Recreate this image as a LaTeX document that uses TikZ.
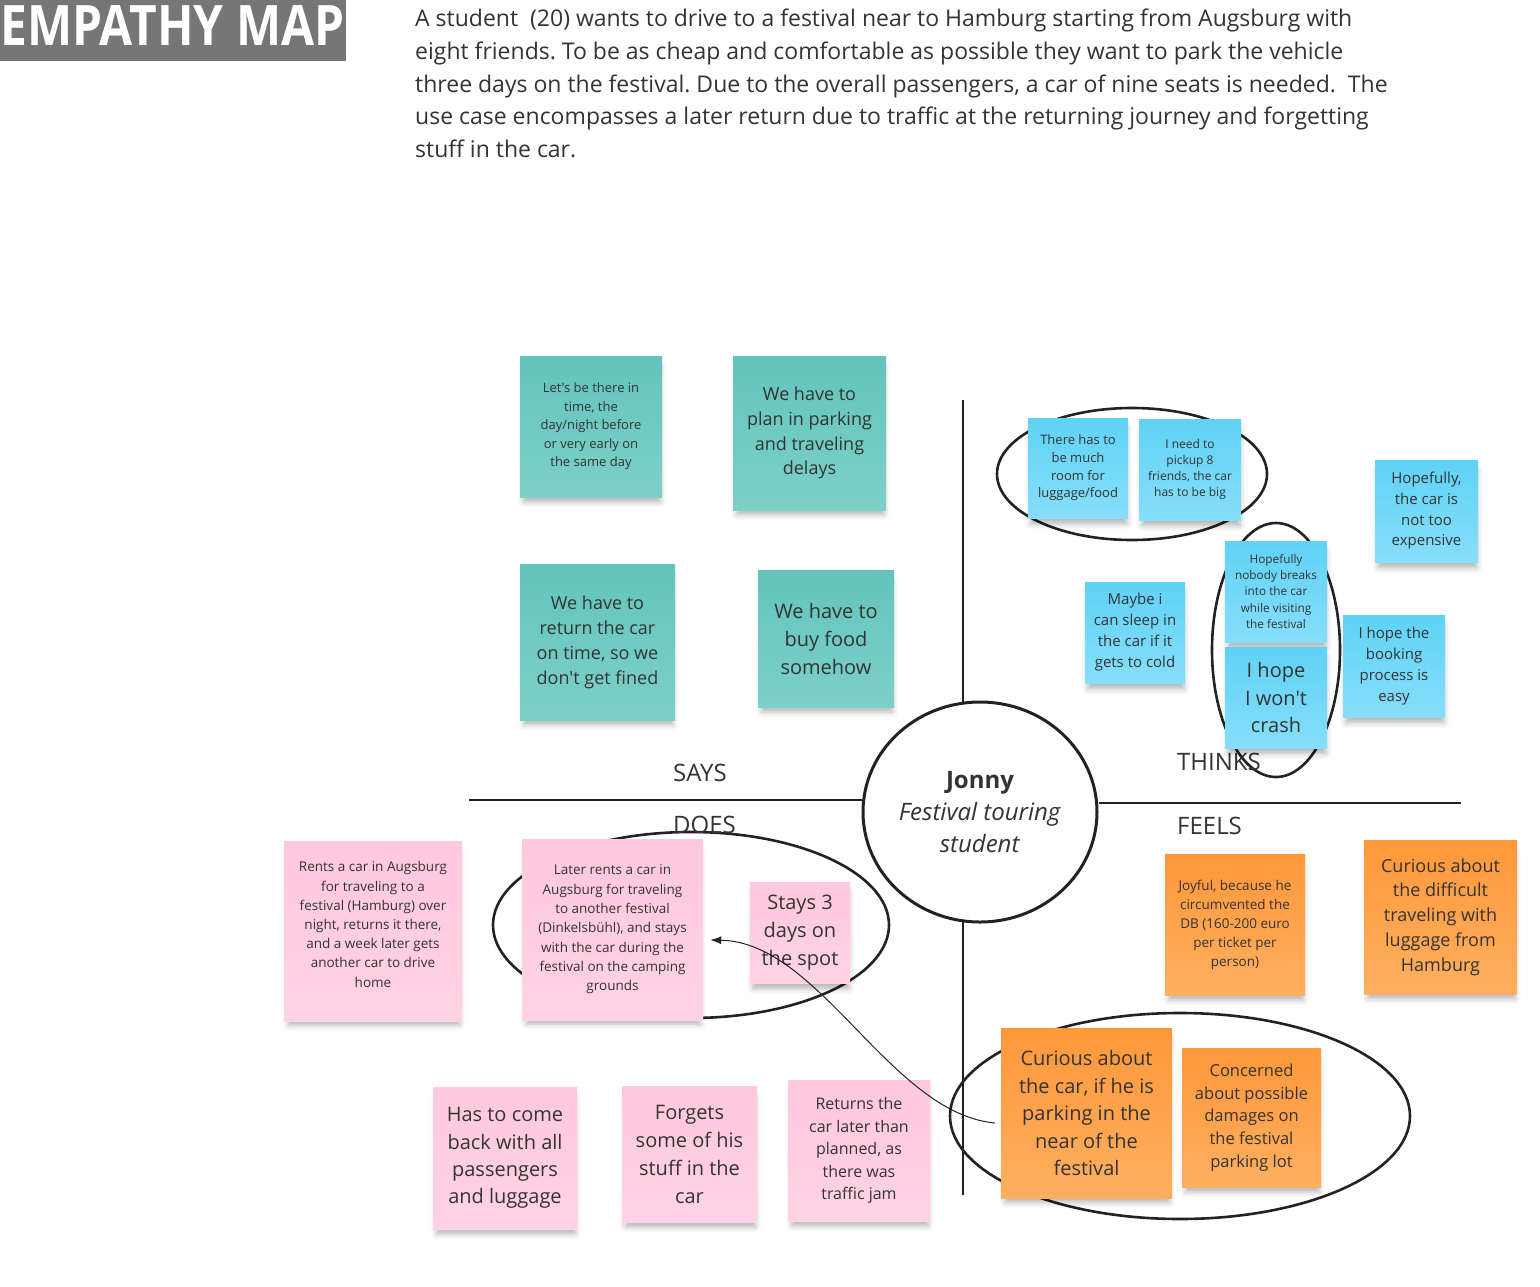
\documentclass[tikz,border=0pt]{standalone}
\usepackage{fontspec}
\setmainfont{Open Sans}[Ligatures=TeXOff]
\usetikzlibrary{shapes.geometric,shadows.blur,calc,arrows.meta}
\definecolor{teal1}{HTML}{62C4BC}
\definecolor{teal2}{HTML}{7DD0C9}
\definecolor{blue1}{HTML}{5FD2F6}
\definecolor{blue2}{HTML}{87DEFA}
\definecolor{pink1}{HTML}{FFC8DD}
\definecolor{pink2}{HTML}{FFD3E4}
\definecolor{orng1}{HTML}{FF983A}
\definecolor{orng2}{HTML}{FFAF60}
\definecolor{ink}{HTML}{333333}
\definecolor{hdr}{HTML}{767676}
\definecolor{linec}{HTML}{222222}
\newcommand\nfs[2]{\fontsize{#1}{#2}\selectfont}
\frenchspacing
\tikzset{
  note/.style={rectangle, inner sep=0pt, align=center, text=ink,
    blur shadow={shadow xshift=1pt, shadow yshift=-8pt, shadow blur radius=6pt, shadow opacity=30, shadow scale=0.96}},
  tealnote/.style={note, top color=teal1, bottom color=teal2},
  bluenote/.style={note, top color=blue1, bottom color=blue2},
  pinknote/.style={note, top color=pink1, bottom color=pink2},
  orngnote/.style={note, top color=orng1, bottom color=orng2},
  divider/.style={draw=linec, line width=2.5pt},
  group/.style={draw=linec, line width=2.6pt},
  quad/.style={text=ink, font=\nfs{24}{30}, inner sep=0pt, anchor=base west},
  para/.style={text=ink, font=\nfs{23}{33}, inner sep=0pt, anchor=base west}
}
\begin{document}
\begin{tikzpicture}[x=1pt,y=-1pt]
\useasboundingbox (0,0) rectangle (1540,1286);

% header
\node[fill=hdr, minimum width=346, minimum height=61, inner sep=0, anchor=north west] (hbox) at (0,0) {};
\node[inner sep=0, anchor=base west, text=white] (htitle) at (0,45) {\resizebox{344pt}{40pt}{\bfseries EMPATHY MAP}};
\node[para] (p1) at (415,26) {A student\ \ (20) wants to drive to a festival near to Hamburg starting from Augsburg with};
\node[para] (p2) at (415,59) {eight friends. To be as cheap and comfortable as possible they want to park the vehicle};
\node[para] (p3) at (415,92) {three days on the festival. Due to the overall passengers, a car of nine seats is needed.\ \ The};
\node[para] (p4) at (415,124) {use case encompasses a later return due to traffic at the returning journey and forgetting};
\node[para] (p5) at (415,157) {stuff in the car.};

% centre
\node[ellipse, draw=linec, line width=3pt, minimum width=234, minimum height=220, inner sep=0, align=center, text=ink, font=\nfs{24}{32}] (core) at (980,812)
  {\textbf{Jonny}\\\textit{Festival touring}\\\textit{student}};
\coordinate (sL) at (469,800);
\coordinate (sR) at (1461,803);
\coordinate (sT) at (963,400);
\coordinate (sB) at (963,1195);
\draw[divider] (sL) -- (sL -| core.west);
\draw[divider] (sR) -- (sR -| core.east);
\draw[divider] (sT) -- (963,703);
\draw[divider] (sB) -- (963,921);

% group ellipses
\draw[group] (1132,474) ellipse [x radius=135, y radius=66];
\draw[group] (1276,650) ellipse [x radius=64, y radius=127];
\draw[group] (691,925) ellipse [x radius=198, y radius=93];
\draw[group] (1180,1116) ellipse [x radius=230, y radius=103];

% quadrant labels
\node[quad] (lsays) at (673,781) {SAYS};
\node[quad] (lthinks) at (1177,770) {THINKS};
\node[quad] (ldoes) at (673,833) {DOES};
\node[quad] (lfeels) at (1177,834) {FEELS};

% SAYS
\node[tealnote, minimum width=142, minimum height=141, font=\nfs{13}{18.5}] (s1) at (591,426.5)
  {Let's be there in\\time, the\\day/night before\\or very early on\\the same day};
\node[tealnote, minimum width=153, minimum height=154, font=\nfs{18}{24.7}] (s2) at (809.5,433)
  {We have to\\plan in parking\\and traveling\\delays};
\node[tealnote, minimum width=155, minimum height=156, font=\nfs{18}{25}] (s3) at (597.5,642)
  {We have to\\return the car\\on time, so we\\don't get fined};
\node[tealnote, minimum width=136, minimum height=137, font=\nfs{20}{28}] (s4) at (826,638.5)
  {We have to\\buy food\\somehow};

% THINKS
\node[bluenote, minimum width=100, minimum height=100, font=\nfs{13}{17.7}] (t5) at (1078,468)
  {There has to\\be much\\room for\\luggage/food};
\node[bluenote, minimum width=102, minimum height=101, font=\nfs{12}{16}] (t6) at (1190,469.5)
  {I need to\\pickup 8\\friends, the car\\has to be big};
\node[bluenote, minimum width=103, minimum height=102, font=\nfs{15}{20.7}] (t7) at (1426.5,511)
  {Hopefully,\\the car is\\not too\\expensive};
\node[bluenote, minimum width=100, minimum height=101, font=\nfs{15}{21}] (t8) at (1135,632.5)
  {Maybe i\\can sleep in\\the car if it\\gets to cold};
\node[bluenote, minimum width=102, minimum height=101, font=\nfs{11.8}{16.3}] (t9) at (1276,591.5)
  {Hopefully\\nobody breaks\\into the car\\while visiting\\the festival};
\node[bluenote, minimum width=102, minimum height=101, font=\nfs{20}{27.5}] (t10) at (1276,697.5)
  {I hope\\I won't\\crash};
\node[bluenote, minimum width=102, minimum height=102, font=\nfs{15}{21}] (t11) at (1394,666)
  {I hope the\\booking\\process is\\easy};

% DOES
\node[pinknote, minimum width=178, minimum height=180, font=\nfs{13.5}{19.2}] (d12) at (373,931)
  {Rents a car in Augsburg\\for traveling to a\\festival (Hamburg) over\\night, returns it there,\\and a week later gets\\another car to drive\\home\\[-6pt]};
\node[pinknote, minimum width=181, minimum height=181, font=\nfs{13.5}{19.3}] (d13) at (612.5,929.5)
  {Later rents a car in\\Augsburg for traveling\\to another festival\\(Dinkelsbühl), and stays\\with the car during the\\festival on the camping\\grounds};
\node[pinknote, minimum width=100, minimum height=101, font=\nfs{20}{28}] (d14) at (800,932.5)
  {Stays 3\\days on\\the spot};
\node[pinknote, minimum width=144, minimum height=142, font=\nfs{20}{27.3}] (d15) at (505,1158)
  {Has to come\\back with all\\passengers\\and luggage};
\node[pinknote, minimum width=135, minimum height=136, font=\nfs{20}{28}] (d16) at (689.5,1154)
  {Forgets\\some of his\\stuff in the\\car};
\node[pinknote, minimum width=142, minimum height=141, font=\nfs{16}{22.5}] (d17) at (859,1150.5)
  {Returns the\\car later than\\planned, as\\there was\\traffic jam};

% FEELS
\node[orngnote, minimum width=140, minimum height=141, font=\nfs{13.5}{19}] (f18) at (1235,924.5)
  {Joyful, because he\\circumvented the\\DB (160-200 euro\\per ticket per\\person)};
\node[orngnote, minimum width=153, minimum height=154, font=\nfs{18}{24.7}] (f19) at (1440.5,917)
  {Curious about\\the difficult\\traveling with\\luggage from\\Hamburg};
\node[orngnote, minimum width=171, minimum height=170, font=\nfs{20}{27.5}] (f20) at (1086.5,1113)
  {Curious about\\the car, if he is\\parking in the\\near of the\\festival};
\node[orngnote, minimum width=139, minimum height=139, font=\nfs{16.5}{22.8}] (f21) at (1251.5,1117.5)
  {Concerned\\about possible\\damages on\\the festival\\parking lot};

% connector
\draw[linec, line width=1pt, -{Latex[length=11pt,width=8pt]}]
  ($(f20.west)+(-6,10)$) .. controls (890,1113) and (820,942) .. ($(d13.east)+(7,10.5)$);
\end{tikzpicture}
\end{document}
